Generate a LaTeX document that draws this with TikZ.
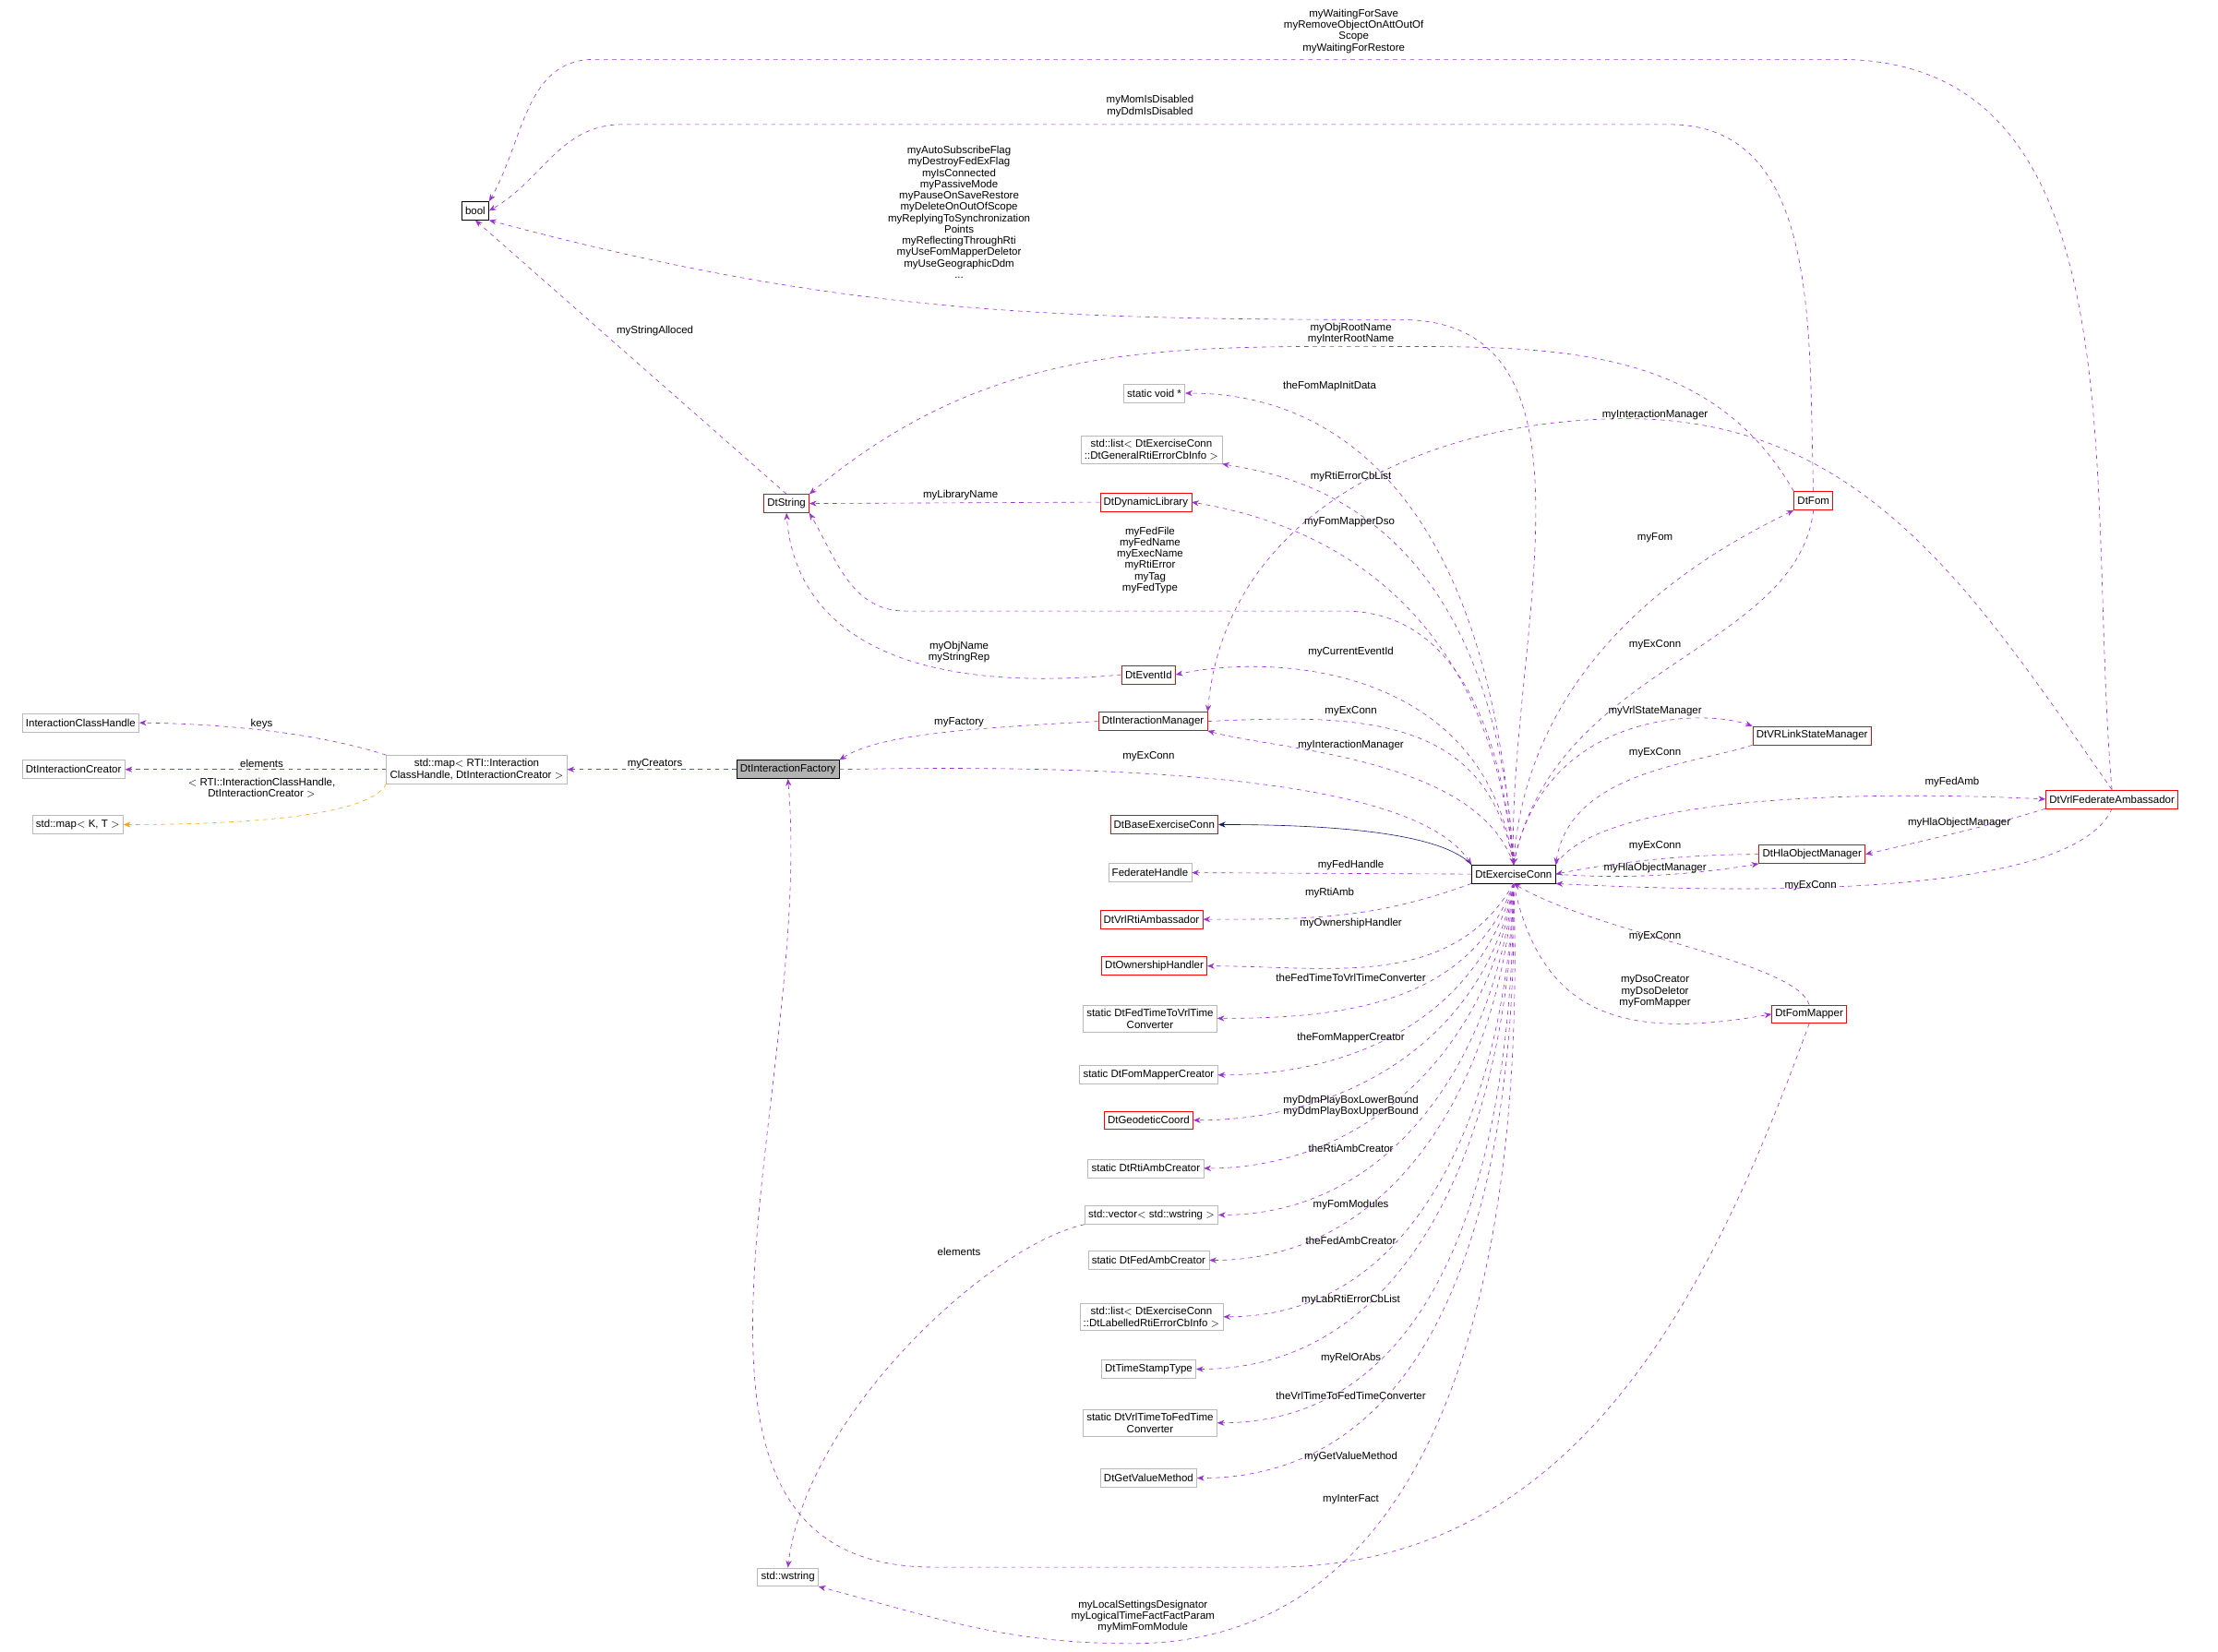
\documentclass[tikz,border=0pt]{standalone}
\usepackage{fontspec}
\setmainfont{Liberation Sans}
\usetikzlibrary{arrows.meta}

\definecolor{depcol}{HTML}{9A32CD}
\definecolor{inhcol}{HTML}{191970}
\definecolor{tplcol}{HTML}{FFA500}

\tikzset{
  cls/.style={draw, inner sep=2.5pt, font=\fontsize{7.5}{8.5}\selectfont, align=center, minimum height=13pt},
  gcls/.style={cls, draw=gray!55},
  rcls/.style={cls, draw=red},
  bcls/.style={cls, draw=black},
  lbl/.style={font=\fontsize{7.5}{8}\selectfont, align=center, inner sep=0pt},
  dep/.style={draw=depcol, dashed, -{Stealth[length=5pt,width=4pt]}},
  inh/.style={draw=inhcol, -{Stealth[length=5pt,width=4pt]}},
  tpl/.style={draw=tplcol, dashed, -{Stealth[length=5pt,width=4pt]}}
}

\begin{document}
\begin{tikzpicture}[x=1pt, y=-1pt]
      \useasboundingbox (0,0) rectangle (1568,1168);

      % classes
      \node[bcls] (bool) at (336, 149) {bool};
      \node[rcls] (dtstr) at (556, 356) {DtString};
      \node[rcls] (dynlib) at (810, 355) {DtDynamicLibrary};
      \node[gcls] (voidp) at (816, 278) {static void *};
      \node[gcls] (lgen) at (814, 318) {std::list$<$ DtExerciseConn\\::DtGeneralRtiErrorCbInfo $>$};
      \node[rcls] (evid) at (812, 477) {DtEventId};
      \node[rcls] (imgr) at (815, 510) {DtInteractionManager};
      \node[bcls, fill=gray!60] (fac) at (557, 544) {DtInteractionFactory};
      \node[gcls] (imap) at (337, 544) {std::map$<$ RTI::Interaction\\ClassHandle, DtInteractionCreator $>$};
      \node[gcls] (ich) at (57, 511) {InteractionClassHandle};
      \node[gcls] (icr) at (52, 544) {DtInteractionCreator};
      \node[gcls] (mapkt) at (55, 583) {std::map$<$ K, T $>$};
      \node[rcls] (base) at (823, 583) {DtBaseExerciseConn};
      \node[gcls] (fedh) at (813, 617) {FederateHandle};
      \node[rcls] (rtiamb) at (814, 650) {DtVrlRtiAmbassador};
      \node[rcls] (own) at (816, 683) {DtOwnershipHandler};
      \node[gcls] (f2v) at (813, 720) {static DtFedTimeToVrlTime\\Converter};
      \node[gcls] (fmc) at (812, 760) {static DtFomMapperCreator};
      \node[rcls] (geo) at (812, 792) {DtGeodeticCoord};
      \node[gcls] (rac) at (810, 826) {static DtRtiAmbCreator};
      \node[gcls] (vec) at (814, 859) {std::vector$<$ std::wstring $>$};
      \node[gcls] (fac2) at (812, 891) {static DtFedAmbCreator};
      \node[gcls] (llab) at (814, 931) {std::list$<$ DtExerciseConn\\::DtLabelledRtiErrorCbInfo $>$};
      \node[gcls] (tst) at (812, 968) {DtTimeStampType};
      \node[gcls] (v2f) at (813, 1006) {static DtVrlTimeToFedTime\\Converter};
      \node[gcls] (gvm) at (812, 1045) {DtGetValueMethod};
      \node[gcls] (wstr) at (557, 1115) {std::wstring};
      \node[bcls] (ec) at (1070, 618) {DtExerciseConn};
      \node[rcls] (fom) at (1282, 354) {DtFom};
      \node[rcls] (vrlsm) at (1281, 520) {DtVRLinkStateManager};
      \node[rcls] (vfa) at (1493, 565) {DtVrlFederateAmbassador};
      \node[rcls] (hom) at (1281, 604) {DtHlaObjectManager};
      \node[rcls] (fmap) at (1279, 717) {DtFomMapper};

      % connectors to bool and DtString
      \draw[dep] (ec.north) to[out=92, in=0] (990, 226) to[out=180, in=-15] (bool.south east);
      \draw[dep] (vfa.north) to[out=95, in=0] (1300, 42) -- (420, 42) to[out=180, in=60] (bool.north east);
      \draw[dep] (fom.north) to[out=92, in=0] (1180, 88) -- (440, 88) to[out=180, in=30] (bool.east);
      \draw[dep] (dtstr.north) -- (bool.south);
      \draw[dep] (fom.north west) to[out=120, in=0] (1000, 245) to[out=180, in=40] (dtstr.north east);
      \draw[dep] (dynlib.west) -- (dtstr.east);
      \draw[dep] (ec.north) to[out=95, in=0] (950, 432) -- (640, 432) to[out=180, in=-60] (dtstr.south east);
      \draw[dep] (evid.west) .. controls (600,495) and (560,420) .. (dtstr.south);

      % upper members
      \draw[dep] (ec.north) .. controls (1050,300) and (900,278) .. (voidp.east);
      \draw[dep] (ec.north) .. controls (1055,350) and (900,335) .. (lgen.south east);
      \draw[dep] (ec.north) .. controls (1050,400) and (900,365) .. (dynlib.east);
      \draw[dep] (vfa.north) to[out=125, in=0] (1150, 296) to[out=180, in=85] (imgr.north east);
      \draw[dep] (ec.north) .. controls (1050,470) and (900,462) .. (evid.east);
      \draw[dep] (ec.north) .. controls (1045,535) and (900,530) .. (imgr.south east);
      \draw[dep] (imgr.east) .. controls (960,505) and (1050,505) .. (ec.north);
      \draw[dep] (imgr.west) .. controls (680,515) and (620,520) .. (fac.north east);
      \draw[dep] (fac.east) .. controls (800,540) and (1000,550) .. (ec.north west);

      % interaction map
      \draw[dep] (fac.west) -- (imap.east);
      \draw[dep] (imap.north west) .. controls (230,520) and (170,512) .. (ich.east);
      \draw[dep] (imap.west) -- (icr.east);
      \draw[tpl] (imap.south west) .. controls (260,580) and (150,583) .. (mapkt.east);

      % lower members
      \draw[inh] (ec.north west) .. controls (1020,590) and (950,583) .. (base.east);
      \draw[dep] (ec.west) -- (fedh.east);
      \draw[dep] (ec.south west) to[out=200, in=0] (rtiamb.east);
      \draw[dep] (ec.south) to[out=240, in=0] (own.east);
      \draw[dep] (ec.south) to[out=250, in=0] (f2v.east);
      \draw[dep] (ec.south) to[out=255, in=0] (fmc.east);
      \draw[dep] (ec.south) to[out=260, in=0] (geo.east);
      \draw[dep] (ec.south) to[out=262, in=0] (rac.east);
      \draw[dep] (ec.south) to[out=264, in=0] (vec.east);
      \draw[dep] (ec.south) to[out=266, in=0] (fac2.east);
      \draw[dep] (ec.south) to[out=268, in=0] (llab.east);
      \draw[dep] (ec.south) to[out=269, in=0] (tst.east);
      \draw[dep] (ec.south) to[out=270, in=0] (v2f.east);
      \draw[dep] (ec.south) to[out=271, in=0] (gvm.east);
      \draw[dep] (ec.south) to[out=272, in=0] (800, 1162) to[out=180, in=-15] (wstr.south east);
      \draw[dep] (vec.south west) .. controls (700,880) and (570,1000) .. (wstr.north);
      \draw[dep] (fmap.south) to[out=-110, in=0] (900, 1108) -- (660, 1108) to[out=180, in=-85] (fac.south);

      % right side
      \draw[dep] (ec.north) .. controls (1080,450) and (1230,380) .. (fom.south west);
      \draw[dep] (fom.south) .. controls (1270,460) and (1100,470) .. (ec.north);
      \draw[dep] (ec.north) .. controls (1090,505) and (1200,500) .. (vrlsm.north west);
      \draw[dep] (vrlsm.south west) .. controls (1200,540) and (1110,545) .. (ec.north east);
      \draw[dep] (ec.north east) .. controls (1130,565) and (1300,558) .. (vfa.west);
      \draw[dep] (vfa.south west) .. controls (1420,580) and (1380,590) .. (hom.east);
      \draw[dep] (hom.west) .. controls (1200,604) and (1150,608) .. (ec.east);
      \draw[dep] (ec.east) .. controls (1150,622) and (1200,618) .. (hom.south west);
      \draw[dep] (vfa.south) .. controls (1470,625) and (1300,635) .. (ec.south east);
      \draw[dep] (fmap.north) .. controls (1270,680) and (1130,660) .. (ec.south);
      \draw[dep] (ec.south) .. controls (1090,720) and (1150,735) .. (fmap.west);

      % connector labels
      \node[lbl] (l1) at (678, 150) {myAutoSubscribeFlag\\myDestroyFedExFlag\\myIsConnected\\myPassiveMode\\myPauseOnSaveRestore\\myDeleteOnOutOfScope\\myReplyingToSynchronization\\Points\\myReflectingThroughRti\\myUseFomMapperDeletor\\myUseGeographicDdm\\...};
      \node[lbl] (l2) at (957, 22) {myWaitingForSave\\myRemoveObjectOnAttOutOf\\Scope\\myWaitingForRestore};
      \node[lbl] (l3) at (813, 75) {myMomIsDisabled\\myDdmIsDisabled};
      \node[lbl] (l4) at (463, 234) {myStringAlloced};
      \node[lbl] (l5) at (955, 236) {myObjRootName\\myInterRootName};
      \node[lbl] (l6) at (679, 350) {myLibraryName};
      \node[lbl] (l7) at (813, 396) {myFedFile\\myFedName\\myExecName\\myRtiError\\myTag\\myFedType};
      \node[lbl] (l8) at (678, 461) {myObjName\\myStringRep};
      \node[lbl] (l9) at (940, 273) {theFomMapInitData};
      \node[lbl] (l10) at (955, 337) {myRtiErrorCbList};
      \node[lbl] (l11) at (954, 369) {myFomMapperDso};
      \node[lbl] (l12) at (1170, 293) {myInteractionManager};
      \node[lbl] (l13) at (955, 461) {myCurrentEventId};
      \node[lbl] (l14) at (955, 503) {myExConn};
      \node[lbl] (l15) at (955, 527) {myInteractionManager};
      \node[lbl] (l16) at (678, 511) {myFactory};
      \node[lbl] (l17) at (812, 535) {myExConn};
      \node[lbl] (l18) at (463, 540) {myCreators};
      \node[lbl] (l19) at (185, 512) {keys};
      \node[lbl] (l20) at (185, 540) {elements};
      \node[lbl] (l21) at (185, 557) {$<$ RTI::InteractionClassHandle,\\DtInteractionCreator $>$};
      \node[lbl] (l22) at (955, 612) {myFedHandle};
      \node[lbl] (l23) at (940, 631) {myRtiAmb};
      \node[lbl] (l24) at (955, 653) {myOwnershipHandler};
      \node[lbl] (l25) at (955, 691) {theFedTimeToVrlTimeConverter};
      \node[lbl] (l26) at (955, 734) {theFomMapperCreator};
      \node[lbl] (l27) at (955, 782) {myDdmPlayBoxLowerBound\\myDdmPlayBoxUpperBound};
      \node[lbl] (l28) at (955, 812) {theRtiAmbCreator};
      \node[lbl] (l29) at (955, 852) {myFomModules};
      \node[lbl] (l30) at (955, 877) {theFedAmbCreator};
      \node[lbl] (l31) at (955, 919) {myLabRtiErrorCbList};
      \node[lbl] (l32) at (955, 960) {myRelOrAbs};
      \node[lbl] (l33) at (955, 987) {theVrlTimeToFedTimeConverter};
      \node[lbl] (l34) at (955, 1030) {myGetValueMethod};
      \node[lbl] (l35) at (808, 1143) {myLocalSettingsDesignator\\myLogicalTimeFactFactParam\\myMimFomModule};
      \node[lbl] (l36) at (678, 885) {elements};
      \node[lbl] (l37) at (955, 1060) {myInterFact};
      \node[lbl] (l38) at (1170, 380) {myFom};
      \node[lbl] (l39) at (1170, 456) {myExConn};
      \node[lbl] (l40) at (1170, 503) {myVrlStateManager};
      \node[lbl] (l41) at (1170, 532) {myExConn};
      \node[lbl] (l42) at (1380, 553) {myFedAmb};
      \node[lbl] (l43) at (1385, 582) {myHlaObjectManager};
      \node[lbl] (l44) at (1170, 598) {myExConn};
      \node[lbl] (l45) at (1170, 614) {myHlaObjectManager};
      \node[lbl] (l46) at (1280, 626) {myExConn};
      \node[lbl] (l47) at (1170, 662) {myExConn};
      \node[lbl] (l48) at (1170, 701) {myDsoCreator\\myDsoDeletor\\myFomMapper};
\end{tikzpicture}
\end{document}
